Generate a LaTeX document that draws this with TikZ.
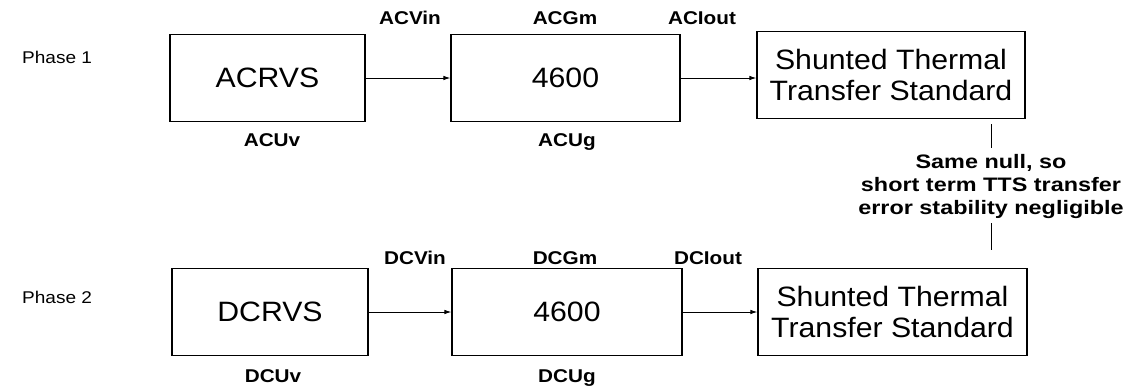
\documentclass[tikz,border=0pt]{standalone}
\usepackage{fontspec}
\setmainfont{Liberation Sans}
\newfontfamily\boxfont[FakeStretch=1.08]{Liberation Sans}
\newfontfamily\lblfont[FakeStretch=1.12]{Liberation Sans}
\newfontfamily\notefont[FakeStretch=1.2]{Liberation Sans}
\usetikzlibrary{arrows.meta,positioning}

\begin{document}
\begin{tikzpicture}[
  x=1pt, y=-1pt,
  block/.style={draw, line width=1.1pt, inner sep=0pt, minimum height=87pt,
                align=center, font=\boxfont\fontsize{28}{31}\selectfont},
  sig/.style={anchor=base, inner sep=0pt, font=\lblfont\bfseries\fontsize{18.5}{18.5}\selectfont},
  phase/.style={anchor=base west, inner sep=0pt, font=\lblfont\fontsize{17}{17}\selectfont},
  >={Latex[length=7pt,width=4.5pt]}
]
\useasboundingbox (0,0) rectangle (1130,386);

% Phase 1 (AC)
\node[phase] (ph1) at (22,63) {Phase 1};
\node[block, minimum width=195pt] (rvsA) at (267.5,78) {ACRVS};
\node[block, minimum width=229pt] (ampA) at (565.5,78) {4600};
\node[block, minimum width=268pt] (ttsA) at (891,75) {Shunted Thermal\\Transfer Standard};

\draw[->, line width=1pt] (rvsA) -- (ampA);
\draw[->, line width=1pt] (ampA) -- (ttsA.west |- ampA);

\node[sig] (vinA)  at (410,24)  {ACVin};
\node[sig] (gmA)   at (565,24)  {ACGm};
\node[sig] (ioutA) at (702,24)  {ACIout};
\node[sig] (uvA)   at (272,146) {ACUv};
\node[sig] (ugA)   at (567,146) {ACUg};

% Phase 2 (DC)
\node[phase] (ph2) at (22,303) {Phase 2};
\node[block, minimum width=196pt] (rvsB) at (270,312) {DCRVS};
\node[block, minimum width=230pt] (ampB) at (567,312) {4600};
\node[block, minimum width=269pt] (ttsB) at (892.5,312) {Shunted Thermal\\Transfer Standard};

\draw[->, line width=1pt] (rvsB) -- (ampB);
\draw[->, line width=1pt] (ampB) -- (ttsB);

\node[sig] (vinB)  at (415,264) {DCVin};
\node[sig] (gmB)   at (565,264) {DCGm};
\node[sig] (ioutB) at (708,264) {DCIout};
\node[sig] (uvB)   at (273,382) {DCUv};
\node[sig] (ugB)   at (567,382) {DCUg};

% note between the two transfer standards
\node[inner sep=0pt, align=center, font=\notefont\bfseries\fontsize{19.5}{23}\selectfont]
  (note) at (991,186) {Same null, so\\short term TTS transfer\\error stability negligible};
\draw[line width=1pt, shorten <=5pt, shorten >=6pt] (note.north |- ttsA.south) -- (note.north);
\draw[line width=1pt, shorten <=5pt, shorten >=18pt] (note.south) -- (note.south |- ttsB.north);

\end{tikzpicture}
\end{document}
